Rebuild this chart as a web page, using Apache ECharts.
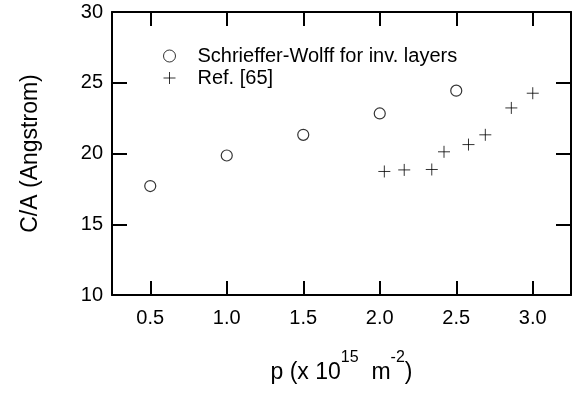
<!DOCTYPE html>
<html>
<head>
<meta charset="utf-8">
<script src="https://cdn.jsdelivr.net/npm/echarts@6/dist/echarts.min.js"></script>
<style>html,body{margin:0;padding:0;background:#fff}#c{width:572px;height:401px}</style>
</head>
<body>
<div id="c"></div>
<script>
var seriesNames = ['Schrieffer-Wolff for inv. layers', 'Ref. [65]'];
var pSW = [0.5, 1.0, 1.5, 2.0, 2.5];
var caSW = [17.7, 19.86, 21.32, 22.83, 24.44];
var pRef = [2.03, 2.16, 2.34, 2.42, 2.58, 2.69, 2.86, 3.0];
var caRef = [18.73, 18.84, 18.87, 20.12, 20.63, 21.32, 23.22, 24.26];
var xTicks = [0.5, 1.0, 1.5, 2.0, 2.5, 3.0];
var yTicks = [10, 15, 20, 25, 30];

var FONT = '"Liberation Sans", Arial, sans-serif';
function zip(a, b) { return a.map(function (v, i) { return [v, b[i]]; }); }
var crossPath = 'path://M0,6H12M6,0V12';
var lineStyle = { color: '#000', width: 2 };

var chart = echarts.init(document.getElementById('c'), null, { renderer: 'canvas' });
chart.setOption({
  animation: false,
  backgroundColor: '#fff',
  grid: { left: 112, right: 1, top: 12, bottom: 101, containLabel: false },
  legend: {
    orient: 'vertical', left: 158, top: 41, itemWidth: 12, itemHeight: 12, itemGap: 2,
    data: [
      { name: seriesNames[0], icon: 'circle', itemStyle: { color: '#fff', borderColor: '#000', borderWidth: 1 } },
      { name: seriesNames[1], icon: crossPath, itemStyle: { color: 'rgba(0,0,0,0)', borderColor: '#000', borderWidth: 1 } }
    ],
    textStyle: { fontFamily: FONT, fontSize: 20, color: '#000', lineHeight: 20, padding: [0, 0, 0, 17] }
  },
  xAxis: [{
    type: 'value', position: 'bottom', min: 0.25, max: 3.25,
    splitLine: { show: false },
    axisLine: { lineStyle: lineStyle },
    axisTick: { inside: true, length: 14, lineStyle: lineStyle, customValues: xTicks },
    axisLabel: { customValues: xTicks, margin: 13, fontFamily: FONT, fontSize: 20, color: '#000',
      formatter: function (v) { return v.toFixed(1); } },
    name: 'p (x 10{sup|15}  m{sup|-2})', nameLocation: 'middle', nameGap: 55,
    nameTextStyle: { fontFamily: FONT, fontSize: 23, color: '#000', lineHeight: 46,
      rich: { sup: { fontFamily: FONT, fontSize: 16, lineHeight: 16, verticalAlign: 'top', color: '#000' } } }
  }, {
    type: 'value', position: 'top', min: 0.25, max: 3.25,
    splitLine: { show: false },
    axisLine: { lineStyle: lineStyle },
    axisTick: { inside: true, length: 14, lineStyle: lineStyle, customValues: xTicks },
    axisLabel: { show: false }
  }],
  yAxis: [{
    type: 'value', position: 'left', min: 10, max: 30, interval: 5,
    splitLine: { show: false },
    axisLine: { show: true, lineStyle: lineStyle },
    axisTick: { show: true, inside: true, length: 15, lineStyle: lineStyle },
    axisLabel: { margin: 9, fontFamily: FONT, fontSize: 20, color: '#000' },
    name: 'C/A (Angstrom)', nameLocation: 'middle', nameGap: 70,
    nameTextStyle: { fontFamily: FONT, fontSize: 23, color: '#000' }
  }, {
    type: 'value', position: 'right', min: 10, max: 30, interval: 5,
    splitLine: { show: false },
    axisLine: { show: true, lineStyle: lineStyle },
    axisTick: { show: true, inside: true, length: 15, lineStyle: lineStyle },
    axisLabel: { show: false }
  }],
  series: [{
    name: seriesNames[0], type: 'scatter', xAxisIndex: 0, yAxisIndex: 0,
    symbol: 'circle', symbolSize: 11,
    itemStyle: { color: '#fff', borderColor: '#000', borderWidth: 1.2 },
    data: zip(pSW, caSW)
  }, {
    name: seriesNames[1], type: 'scatter', xAxisIndex: 0, yAxisIndex: 0,
    symbol: crossPath, symbolSize: 12,
    itemStyle: { color: 'rgba(0,0,0,0)', borderColor: '#000', borderWidth: 1 },
    data: zip(pRef, caRef)
  }]
});
</script>
</body>
</html>
